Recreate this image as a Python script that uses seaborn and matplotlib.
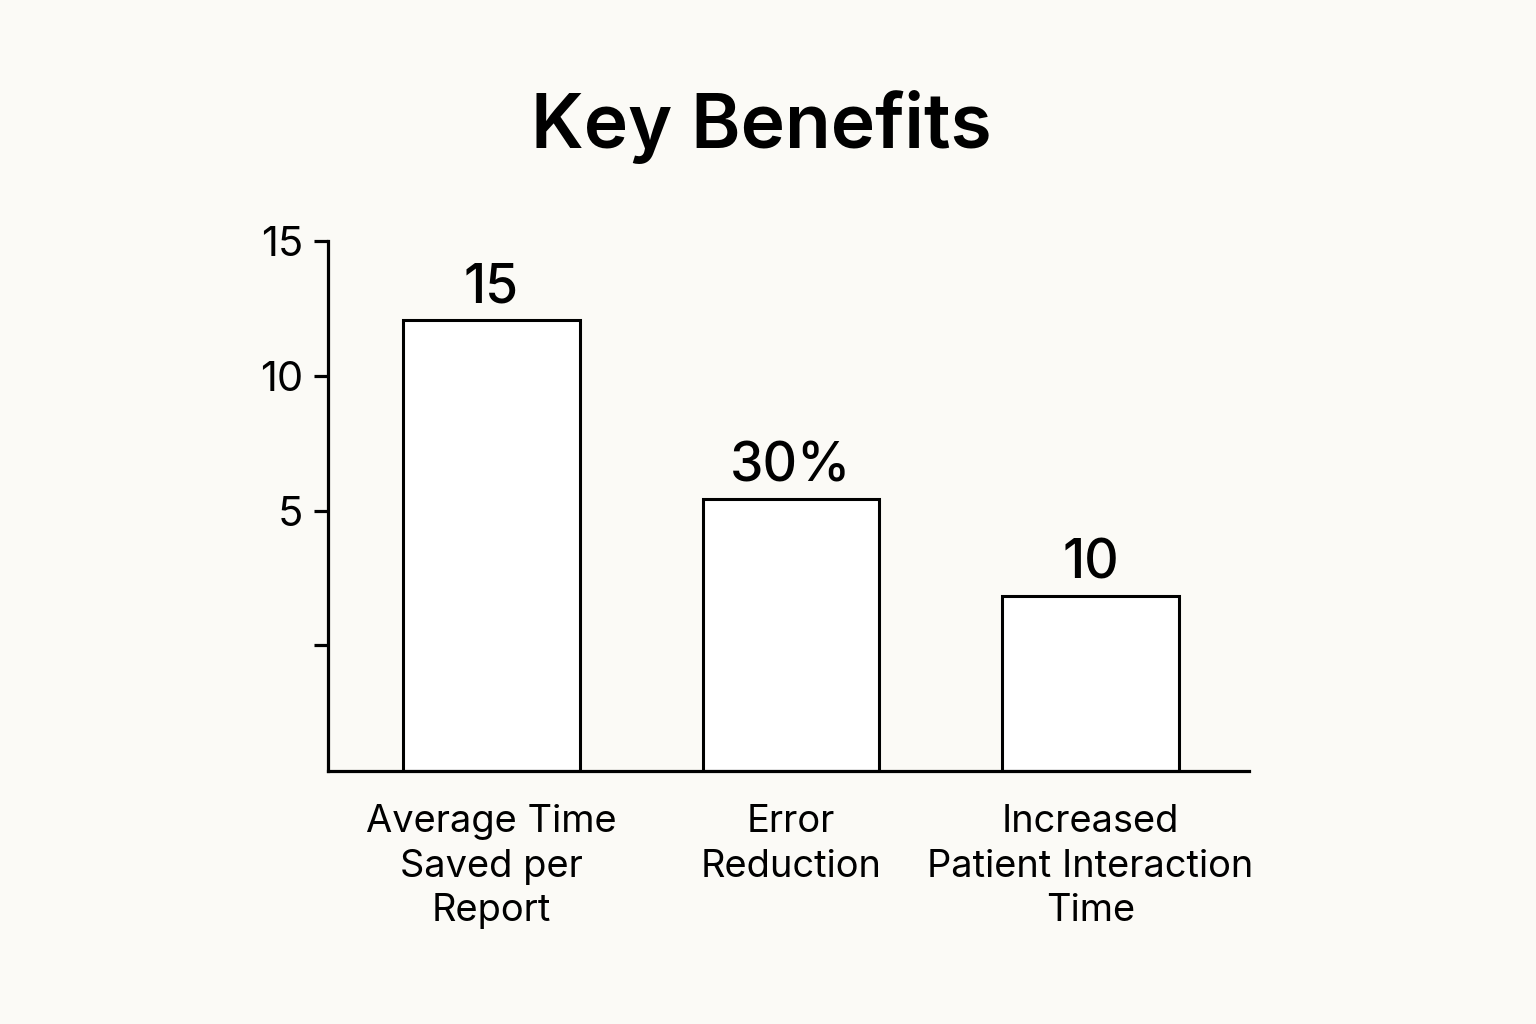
import numpy as np
import pandas as pd
import matplotlib
matplotlib.use('Agg')
import matplotlib.pyplot as plt
import seaborn as sns

# data (heights measured from the baseline, in axis units)
categories = ['Average Time\nSaved per\nReport', 'Error\nReduction',
              'Increased\nPatient Interaction\nTime']
heights = [16.7, 10.07, 6.48]
bar_labels = ['15', '30%', '10']
tick_values = [4.65, 9.63, 14.63, 19.63]
tick_labels = ['', '5', '10', '15']

BG = '#FBFAF6'

sns.set_theme(style='white')
plt.rcParams['font.family'] = ['Inter', 'DejaVu Sans']

df = pd.DataFrame({'category': categories, 'value': heights})

fig = plt.figure(figsize=(15.36, 10.24), dpi=100, facecolor=BG)
ax = fig.add_axes([0.2135, 0.2471, 0.5996, 0.5176])
ax.set_facecolor(BG)

sns.barplot(data=df, x='category', y='value', ax=ax, color='white',
            edgecolor='black', linewidth=2.2, width=0.59, saturation=1)

for patch, lab in zip(ax.patches, bar_labels):
    ax.annotate(lab, (patch.get_x() + patch.get_width() / 2, patch.get_height()),
                xytext=(0, 5), textcoords='offset points',
                ha='center', va='bottom', fontsize=38.5, fontweight='medium',
                color='black')

ax.set_xlim(-0.546, 2.529)
ax.set_ylim(0, 19.63)
ax.set_yticks(tick_values)
ax.set_yticklabels(tick_labels)
ax.set_xlabel('')
ax.set_ylabel('')

for side in ['top', 'right']:
    ax.spines[side].set_visible(False)
for side in ['left', 'bottom']:
    ax.spines[side].set_color('black')
    ax.spines[side].set_linewidth(2.3)

ax.tick_params(axis='y', length=10, width=2.3, color='black', pad=8,
               labelsize=30, labelcolor='black', left=True)
ax.tick_params(axis='x', length=0, pad=24, labelsize=27.4, labelcolor='black')
for t in ax.get_xticklabels():
    t.set_linespacing(1.3)

fig.text(0.496, 1 - 148 / 1024, 'Key Benefits', ha='center', va='baseline',
         fontsize=54, fontweight='semibold', color='black')

fig.savefig('out.png', dpi=100, facecolor=BG)
